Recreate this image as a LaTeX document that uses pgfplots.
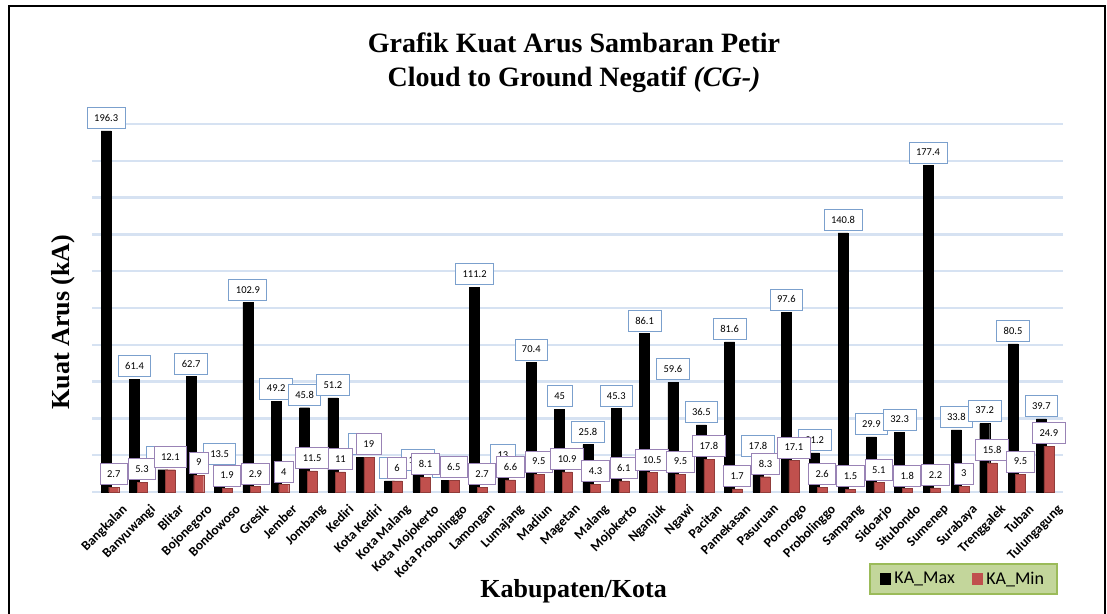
\documentclass[border=0pt]{standalone}
\usepackage{fontspec}
\setmainfont{Liberation Serif}
\newfontfamily\carlito{Carlito}
\usepackage{pgfplots}
\usepackage{pgfplotstable}
\pgfplotsset{compat=1.18}
\definecolor{kmin}{HTML}{C0504D}
\definecolor{gridblue}{HTML}{D6E2F2}
\definecolor{boxblue}{HTML}{4F81BD}
\definecolor{boxpurple}{HTML}{8064A2}
\definecolor{legfill}{HTML}{C3D69B}
\definecolor{legdraw}{HTML}{9BBB59}

\pgfplotstableread{
idx max min
0 196.3 2.7
1 61.4 5.3
2 12.1 12.1
3 62.7 9
4 13.5 1.9
5 102.9 2.9
6 49.2 4
7 45.8 11.5
8 51.2 11
9 19 19
10 6 6
11 10.2 8.1
12 6.5 6.5
13 111.2 2.7
14 13 6.6
15 70.4 9.5
16 45 10.9
17 25.8 4.3
18 45.3 6.1
19 86.1 10.5
20 59.6 9.5
21 36.5 17.8
22 81.6 1.7
23 17.8 8.3
24 97.6 17.1
25 21.2 2.6
26 140.8 1.5
27 29.9 5.1
28 32.3 1.8
29 177.4 2.2
30 33.8 3
31 37.2 15.8
32 80.5 9.5
33 39.7 24.9
}\datatable

\begin{document}
\begin{tikzpicture}
\path[use as bounding box] (0,0) rectangle (1107pt,613pt);
\draw[line width=2.5pt] (9pt,-10pt) -- (9pt,607pt) -- (1105pt,607pt) -- (1105pt,-10pt);
\node[anchor=base, font=\bfseries\fontsize{28}{34}\selectfont] at (574pt,560pt) {Grafik Kuat Arus Sambaran Petir};
\node[anchor=base, font=\bfseries\fontsize{28}{34}\selectfont] at (574pt,526pt) {Cloud to Ground Negatif \textit{(CG-)}};
\begin{axis}[
  at={(92pt,121pt)}, anchor=south west,
  scale only axis, width=971pt, height=368pt,
  ybar, bar width=10pt,
  xmin=-0.625, xmax=33.64, ymin=0, ymax=200,
  ytick={0,20,...,200}, yticklabels={},
  ymajorgrids, grid style={gridblue, line width=2.5pt},
  axis line style={draw=none}, major tick length=0pt,
  xtick={0,...,33},
  xticklabels={Bangkalan,Banyuwangi,Blitar,Bojonegoro,Bondowoso,Gresik,Jember,Jombang,Kediri,Kota Kediri,Kota Malang,Kota Mojokerto,Kota Probolinggo,Lamongan,Lumajang,Madiun,Magetan,Malang,Mojokerto,Nganjuk,Ngawi,Pacitan,Pamekasan,Pasuruan,Ponorogo,Probolinggo,Sampang,Sidoarjo,Situbondo,Sumenep,Surabaya,Trenggalek,Tuban,Tulungagung},
  xticklabel style={rotate=45, anchor=north east, font=\carlito\bfseries\fontsize{13.5}{15}\selectfont, inner sep=1pt, yshift=-15pt, xshift=1pt},
  clip=false,
  /pgf/number format/assume math mode=true,
  ylabel={Kuat Arus (kA)},
  ylabel style={at={(rel axis cs:-0.0299,0.462)}, anchor=center, rotate=0, font=\bfseries\fontsize{26}{30}\selectfont},
  xlabel={Kabupaten/Kota},
  xlabel style={at={(rel axis cs:0.496,-0.288)}, anchor=base, font=\bfseries\fontsize{26}{30}\selectfont},
  legend style={at={(rel axis cs:0.8975,-0.236)}, anchor=center, fill=legfill, draw=legdraw, line width=1.5pt,
    font=\carlito\fontsize{18}{21}\selectfont, legend columns=2,
    /tikz/every even column/.append style={column sep=14pt}, inner xsep=10pt, inner ysep=6pt,
    nodes={inner xsep=3pt}},
  nodes near coords,
]
\addplot[fill=black, draw=black, bar shift=-3.5pt,
  legend image code/.code={\fill[black] (0pt,-5pt) rectangle (10pt,5pt);},
  every node near coord/.append style={draw=boxblue!75, fill=white, text=black, line width=0.9pt,
    font=\carlito\fontsize{10.5}{12}\selectfont, inner xsep=7pt, inner ysep=0pt, minimum height=21pt, anchor=south, yshift=2pt}]
  table[x=idx,y=max]{\datatable};
\addplot[fill=kmin, draw=kmin!75!black, bar shift=4pt,
  legend image code/.code={\fill[kmin] (0pt,-5pt) rectangle (10pt,5pt);},
  every node near coord/.append style={draw=boxpurple!80, fill=white, text=black, line width=0.9pt,
    font=\carlito\fontsize{10.5}{12}\selectfont, inner xsep=7pt, inner ysep=0pt, minimum height=21pt, anchor=south, yshift=2pt}]
  table[x=idx,y=min]{\datatable};
\legend{KA\_Max, KA\_Min}
\end{axis}
\end{tikzpicture}
\end{document}
